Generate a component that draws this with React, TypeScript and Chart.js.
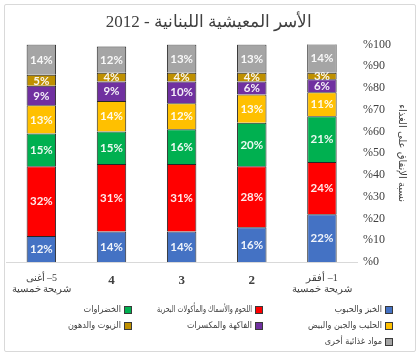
import React, { useEffect, useRef } from "react";
import { Chart, registerables } from "chart.js";

Chart.register(...registerables);

const title = "الأسر المعيشية اللبنانية - 2012";
const yTitle = "نسبة الإنفاق على الغذاء";
const categories: string[][] = [
  ["\u202B5– أغنى\u202C", "شريحة خمسية"],
  ["4"],
  ["3"],
  ["2"],
  ["\u202B1– أفقر\u202C", "شريحة خمسية"],
];
const seriesNames = [
  "الخبز والحبوب",
  "اللحوم والأسماك والمأكولات البحرية",
  "الخضراوات",
  "الحليب والجبن والبيض",
  "الفاكهة والمكسرات",
  "الزيوت والدهون",
  "مواد غذائية أخرى",
];
const seriesColors = ["#4472C4", "#FF0000", "#00B050", "#FFC000", "#7030A0", "#BF9000", "#A5A5A5"];
const bread = [12, 14, 14, 16, 22];
const meat = [32, 31, 31, 28, 24];
const vegetables = [15, 15, 16, 20, 21];
const dairy = [13, 14, 12, 13, 11];
const fruit = [9, 9, 10, 6, 6];
const oils = [5, 4, 4, 4, 3];
const other = [14, 12, 13, 13, 14];
const seriesValues = [bread, meat, vegetables, dairy, fruit, oils, other];
const yTicks = [0, 10, 20, 30, 40, 50, 60, 70, 80, 90, 100];

const labelPlugin = {
  id: "barLabels",
  afterDatasetsDraw(chart: any) {
    const ctx = chart.ctx;
    ctx.save();
    ctx.font = "bold 11.5px Lato, 'Open Sans', sans-serif";
    ctx.textAlign = "center";
    ctx.textBaseline = "middle";
    ctx.fillStyle = "rgba(255,255,255,0.92)";
    chart.data.datasets.forEach((ds: any, i: number) => {
      const meta = chart.getDatasetMeta(i);
      meta.data.forEach((bar: any, j: number) => {
        const p = bar.getProps(["x", "y", "base"], true);
        ctx.fillText(seriesValues[i][j] + "%", p.x, (p.y + p.base) / 2 + 0.5);
      });
    });
    ctx.restore();
  },
};

const legendPlugin = {
  id: "customLegend",
  afterDraw(chart: any) {
    const ctx = chart.ctx;
    ctx.save();
    const colX = [393, 263, 132];
    const rowY = [310, 326, 342];
    ctx.font = "9px 'DejaVu Sans Condensed', 'DejaVu Sans', sans-serif";
    ctx.textAlign = "right";
    ctx.textBaseline = "middle";
    seriesNames.forEach((name, i) => {
      const col = i % 3;
      const row = Math.floor(i / 3);
      const x = colX[col];
      const y = rowY[row];
      ctx.fillStyle = seriesColors[i];
      ctx.fillRect(x - 8, y - 4, 8, 8);
      ctx.strokeStyle = "#3a3a3a";
      ctx.lineWidth = 1;
      ctx.strokeRect(x - 7.5, y - 3.5, 7, 7);
      ctx.fillStyle = "#404040";
      ctx.fillText(name, x - 11, y, 95);
    });
    ctx.restore();
  },
};

export default function App() {
  const ref = useRef<HTMLCanvasElement | null>(null);
  useEffect(() => {
    document.body.style.margin = "0";
    const canvas = ref.current;
    if (!canvas) return;
    const chart = new Chart(canvas, {
      type: "bar",
      data: {
        labels: categories as any,
        datasets: seriesNames.map((name, i) => ({
          label: name,
          data: seriesValues[i],
          backgroundColor: seriesColors[i],
          borderColor: "#262626",
          borderWidth: 1,
          barPercentage: 0.42,
          categoryPercentage: 1,
        })),
      },
      options: {
        responsive: false,
        animation: false,
        layout: { padding: { left: 6, right: 8, top: 0, bottom: 55 } },
        plugins: {
          legend: { display: false },
          tooltip: { enabled: false },
          title: {
            display: true,
            text: title,
            color: "#404040",
            font: { family: "'Liberation Serif', 'DejaVu Serif', serif", size: 17, weight: "normal" },
            padding: { top: 12, bottom: 12 },
          },
        },
        scales: {
          x: {
            stacked: true,
            grid: { display: false, drawTicks: false },
            border: { display: true, color: "#d9d9d9" },
            ticks: {
              color: "#404040",
              padding: 11,
              maxRotation: 0,
              autoSkip: false,
              font: (c: any) =>
                c.index === 0 || c.index === 4
                  ? { family: "'Liberation Serif', serif", size: 10, lineHeight: 1.1 }
                  : { family: "'Liberation Serif', serif", size: 13, weight: "bold" },
            },
            afterFit: (s: any) => {
              s.height = 40;
            },
          },
          y: {
            stacked: true,
            position: "right",
            min: 0,
            max: 100,
            afterBuildTicks: (s: any) => {
              s.ticks = yTicks.map((v) => ({ value: v }));
            },
            grid: { display: false, drawTicks: false },
            border: { display: false },
            ticks: {
              padding: 6,
              color: "#404040",
              font: { family: "'Liberation Serif', serif", size: 12 },
              callback: (v: any) => "%" + v,
            },
            title: {
              display: true,
              text: yTitle,
              color: "#404040",
              font: { family: "'DejaVu Sans', sans-serif", size: 10 },
            },
            afterFit: (s: any) => {
              s.width = 55;
            },
          },
        },
      },
      plugins: [labelPlugin, legendPlugin],
    });
    return () => chart.destroy();
  }, []);
  return (
    <div style={{ position: "relative", width: 420, height: 357, background: "#fff" }}>
      <div
        style={{
          position: "absolute",
          left: 4,
          top: 4,
          width: 410,
          height: 346,
          border: "1px solid #d9d9d9",
          borderRadius: 2,
        }}
      />
      <canvas ref={ref} width={420} height={357} style={{ position: "absolute", left: 0, top: 0 }} />
    </div>
  );
}
